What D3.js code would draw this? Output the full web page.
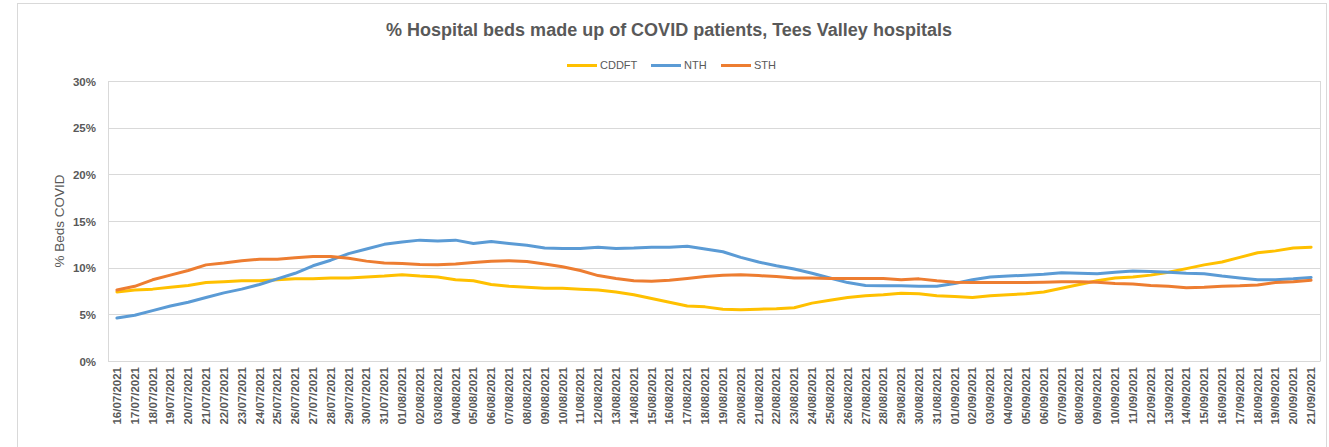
<!DOCTYPE html>
<html><head><meta charset="utf-8">
<script src="https://cdn.jsdelivr.net/npm/d3@7"></script>
<style>body{margin:0;background:#fff}svg{display:block}text{font-family:"Liberation Sans",Arial,sans-serif;fill:#595959}</style>
</head><body><svg id="c" width="1329" height="447"></svg>
<script>
const dates = (function(){const a=[];for(let d=16;d<=31;d++)a.push(String(d).padStart(2,"0")+"/07/2021");for(let d=1;d<=31;d++)a.push(String(d).padStart(2,"0")+"/08/2021");for(let d=1;d<=21;d++)a.push(String(d).padStart(2,"0")+"/09/2021");return a;})();
const seriesNames = ["CDDFT","NTH","STH"];
const CDDFT = [7.4,7.6,7.7,7.9,8.1,8.4,8.5,8.6,8.6,8.7,8.8,8.8,8.9,8.9,9.0,9.1,9.25,9.1,9.0,8.7,8.6,8.2,8.0,7.9,7.8,7.8,7.7,7.6,7.4,7.1,6.7,6.3,5.9,5.8,5.55,5.5,5.55,5.6,5.7,6.2,6.5,6.8,7.0,7.1,7.25,7.2,7.0,6.9,6.8,7.0,7.1,7.2,7.4,7.8,8.2,8.6,8.9,9.0,9.2,9.5,9.9,10.3,10.6,11.1,11.6,11.8,12.1,12.2];
const NTH = [4.6,4.9,5.4,5.9,6.3,6.8,7.3,7.7,8.2,8.8,9.4,10.2,10.8,11.5,12.0,12.5,12.75,12.95,12.85,12.95,12.6,12.8,12.6,12.4,12.1,12.05,12.05,12.2,12.05,12.1,12.2,12.2,12.3,12.0,11.7,11.1,10.6,10.2,9.85,9.4,8.9,8.4,8.1,8.05,8.05,8.0,8.0,8.3,8.7,9.0,9.1,9.2,9.3,9.45,9.4,9.35,9.5,9.65,9.6,9.5,9.4,9.35,9.1,8.9,8.7,8.7,8.8,8.95];
const STH = [7.6,8.0,8.7,9.2,9.7,10.3,10.5,10.75,10.9,10.9,11.05,11.2,11.2,11.0,10.7,10.5,10.45,10.35,10.3,10.4,10.55,10.7,10.75,10.65,10.4,10.1,9.7,9.15,8.85,8.6,8.55,8.65,8.85,9.05,9.2,9.25,9.15,9.05,8.9,8.9,8.85,8.85,8.85,8.85,8.7,8.8,8.6,8.45,8.4,8.4,8.4,8.4,8.45,8.5,8.5,8.45,8.3,8.25,8.1,8.0,7.85,7.9,8.0,8.05,8.15,8.4,8.5,8.65];
const yTicks = [0,5,10,15,20,25,30];
const colors = {CDDFT:"#FFC000", NTH:"#5B9BD5", STH:"#ED7D31"};
const title = "% Hospital beds made up of COVID patients, Tees Valley hospitals";
const yTitle = "% Beds COVID";

const svg = d3.select("#c");
const L=108, R=1320, T=81, B=361;
svg.append("rect").attr("x",17.5).attr("y",3.5).attr("width",1309).attr("height",460).attr("fill","#fff").attr("stroke","#d9d9d9");

const x = d3.scaleBand().domain(dates).range([L,R]);
const y = d3.scaleLinear().domain([0,30]).range([B,T]);

svg.append("g").selectAll("line").data(yTicks).join("line")
  .attr("x1",L).attr("x2",R).attr("y1",d=>Math.round(y(d))+0.5).attr("y2",d=>Math.round(y(d))+0.5)
  .attr("stroke","#d9d9d9").attr("stroke-width",1);
svg.append("line").attr("x1",L+0.5).attr("x2",L+0.5).attr("y1",T).attr("y2",B).attr("stroke","#d9d9d9");
svg.append("line").attr("x1",R+0.5).attr("x2",R+0.5).attr("y1",T).attr("y2",B).attr("stroke","#d9d9d9");

const ya = svg.append("g").attr("transform",`translate(${L-12},0)`).call(d3.axisLeft(y).tickValues(yTicks).tickFormat(d=>d+"%").tickSize(0));
ya.select(".domain").remove();
ya.selectAll("text").attr("font-size","11.5px").attr("font-weight","bold").attr("x",0).attr("dy","0.35em").style("font-family","Liberation Sans, Arial, sans-serif").attr("fill","#595959");

const xa = svg.append("g").attr("transform",`translate(0,${B})`).call(d3.axisBottom(x).tickSize(0));
xa.select(".domain").attr("stroke","#d9d9d9");
xa.selectAll("text").attr("font-size","11.5px").attr("font-weight","bold").attr("transform","rotate(-90)").attr("text-anchor","end")
  .attr("x",-6).attr("y",0).attr("dy","0.35em").style("font-family","Liberation Sans, Arial, sans-serif").attr("fill","#595959");

const data = {CDDFT, NTH, STH};
const line = d3.line().x((d,i)=>x(dates[i])+x.bandwidth()/2).y(d=>y(d));
seriesNames.forEach(n=>{
  svg.append("path").datum(data[n]).attr("d",line).attr("fill","none").attr("stroke",colors[n])
    .attr("stroke-width",3).attr("stroke-linejoin","round").attr("stroke-linecap","round");
});

svg.append("text").attr("x",669).attr("y",36).attr("text-anchor","middle").attr("font-size","18px").attr("font-weight","bold").text(title);
svg.append("text").attr("transform","translate(64,221) rotate(-90)").attr("text-anchor","middle").attr("font-size","13.5px").text(yTitle);

const lg = svg.append("g");
const legX = [567, 651, 721];
seriesNames.forEach((n,i)=>{
  lg.append("line").attr("x1",legX[i]).attr("x2",legX[i]+30).attr("y1",65.5).attr("y2",65.5).attr("stroke",colors[n]).attr("stroke-width",3);
  lg.append("text").attr("x",legX[i]+33).attr("y",65).attr("dy","0.35em").attr("font-size","11px").text(n);
});
</script></body></html>
